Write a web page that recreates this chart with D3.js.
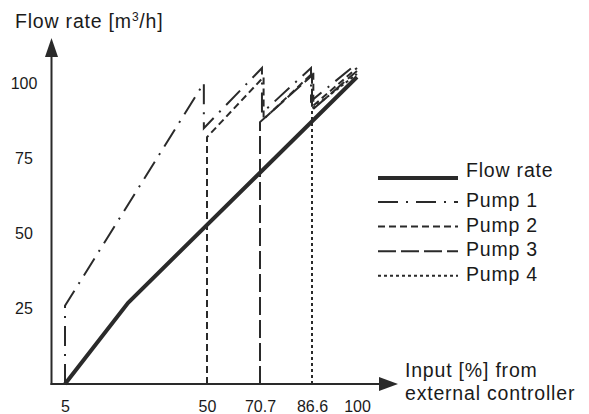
<!DOCTYPE html>
<meta charset="utf-8">
<title>Flow rate vs input</title>
<script src="https://d3js.org/d3.v7.min.js"></script>
<style>
  body { margin: 0; background: #fff; }
  text { font-family: "Liberation Sans", Arial, sans-serif; fill: #1a1a1a; }
</style>
<body>
<div id="viz"></div>
<script>
// input [%] ticks and flow ticks
const xTicks = [5, 50, 70.7, 86.6, 100];
const yTicks = [25, 50, 75, 100];

// series: [input %, flow m3/h]
const flowRate = [[5, 0], [25, 27], [100, 102]];
const pump1 = [[5, 0], [5, 26], [49, 100], [49, 85], [71.3, 105], [71.3, 90], [86.3, 105], [86.3, 94], [100, 106.5]];
const pump2 = [[50, 0], [50, 82], [71.8, 102], [71.8, 88], [87, 103.5], [87, 92.5], [100, 105]];
const pump3 = [[70.7, 0], [70.7, 87], [86.6, 102.5], [86.6, 91], [100, 104]];
const pump4 = [[86.6, 0], [86.6, 91.5], [100, 103]];

const seriesNames = ["Flow rate", "Pump 1", "Pump 2", "Pump 3", "Pump 4"];
const seriesData = [flowRate, pump1, pump2, pump3, pump4];
const dashes = [null, "20,8,2,8", "7,4", "18,5", "3,3"];
const widths = [4, 2, 2, 2, 2];

const width = 589, height = 414;
const ink = "#2a2a2a";

const svg = d3.select("#viz").append("svg")
  .attr("width", width)
  .attr("height", height);

// schematic, non-uniform input axis
const x = d3.scaleLinear().domain(xTicks).range([65, 207, 260, 312, 357]);
const y = d3.scaleLinear().domain([0, 100]).range([384, 83]);

// axes (labels only, no ticks)
const xAxis = svg.append("g")
  .attr("transform", "translate(0,384)")
  .call(d3.axisBottom(x).tickValues(xTicks).tickSize(0).tickPadding(17).tickFormat(d => d));
const yAxis = svg.append("g")
  .attr("transform", "translate(51,0)")
  .call(d3.axisLeft(y).tickValues(yTicks).tickSize(0).tickFormat(d => d));
svg.selectAll(".domain").remove();
xAxis.selectAll("text").attr("font-size", 16).attr("font-family", null).attr("dy", "0.71em").style("fill", "#1a1a1a");
yAxis.selectAll("text").attr("font-size", 16).attr("font-family", null)
  .attr("text-anchor", "middle").attr("x", -27).style("fill", "#1a1a1a");

// axis lines with arrows
svg.append("line").attr("x1", 51.5).attr("x2", 51.5).attr("y1", 385).attr("y2", 56)
  .attr("stroke", ink).attr("stroke-width", 2);
svg.append("path").attr("d", "M51.5,38L45,57L58,57Z").attr("fill", ink);
svg.append("line").attr("x1", 50.5).attr("x2", 380).attr("y1", 384).attr("y2", 384)
  .attr("stroke", ink).attr("stroke-width", 2);
svg.append("path").attr("d", "M398,384L379,377L379,391Z").attr("fill", ink);

// titles
const yt = svg.append("text").attr("x", 15).attr("y", 28)
  .attr("font-size", 19.5).attr("letter-spacing", 0.8);
yt.append("tspan").text("Flow rate [m");
yt.append("tspan").attr("font-size", 12).attr("dy", -7).text("3");
yt.append("tspan").attr("dy", 7).text("/h]");

svg.append("text").attr("x", 405).attr("y", 377).attr("font-size", 19.5)
  .attr("letter-spacing", 0.8).text("Input [%] from");
svg.append("text").attr("x", 405).attr("y", 400).attr("font-size", 19.5)
  .attr("letter-spacing", 0.8).text("external controller");

// series
const line = d3.line().x(d => x(d[0])).y(d => y(d[1]));
seriesData.forEach((data, i) => {
  svg.append("path")
    .datum(data)
    .attr("d", line)
    .attr("fill", "none")
    .attr("stroke", ink)
    .attr("stroke-width", widths[i])
    .attr("stroke-dasharray", dashes[i])
    .attr("stroke-linejoin", "miter");
});

// legend
const legend = svg.append("g");
seriesNames.forEach((name, i) => {
  const ly = i === 0 ? 178 : 202 + (i - 1) * 24.6;
  legend.append("line")
    .attr("x1", 378).attr("x2", 458).attr("y1", ly).attr("y2", ly)
    .attr("stroke", ink)
    .attr("stroke-width", widths[i])
    .attr("stroke-dasharray", dashes[i]);
  legend.append("text")
    .attr("x", 466).attr("y", i === 0 ? 177 : ly + 5)
    .attr("font-size", 19.5).attr("letter-spacing", 0.8)
    .text(name);
});
</script>
